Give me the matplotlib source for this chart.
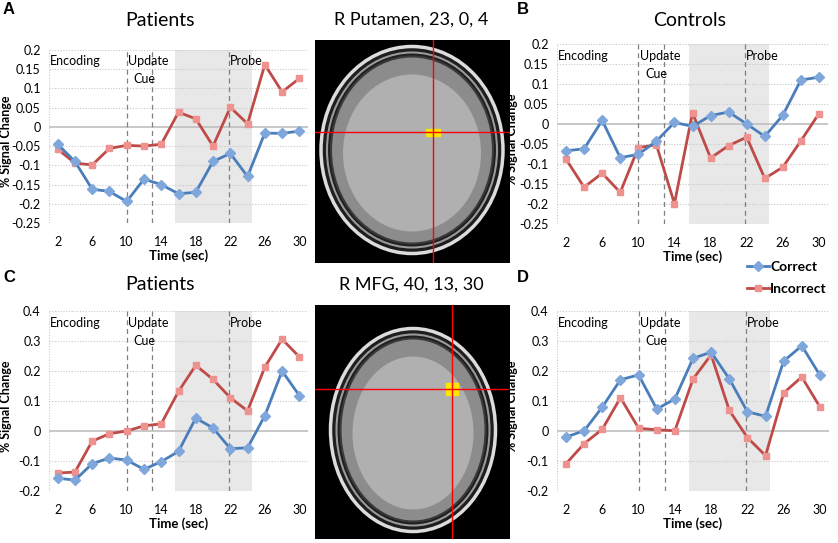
import matplotlib
matplotlib.use("Agg")
import matplotlib.pyplot as plt
from matplotlib.patches import Ellipse, Rectangle

plt.rcParams["font.family"] = ["Lato", "DejaVu Sans"]

W, H = 838, 543

time = [2, 4, 6, 8, 10, 12, 14, 16, 18, 20, 22, 24, 26, 28, 30]
xticks = [2, 6, 10, 14, 18, 22, 26, 30]

a_correct = [-0.045, -0.090, -0.162, -0.168, -0.194, -0.136, -0.150, -0.174,
             -0.170, -0.090, -0.069, -0.129, -0.016, -0.017, -0.011]
a_incorrect = [-0.058, -0.094, -0.099, -0.056, -0.048, -0.050, -0.045, 0.038,
               0.021, -0.050, 0.051, 0.008, 0.162, 0.091, 0.126]

b_correct = [-0.067, -0.062, 0.009, -0.084, -0.076, -0.043, 0.004, -0.006,
             0.021, 0.030, 0.000, -0.031, 0.022, 0.110, 0.117]
b_incorrect = [-0.088, -0.158, -0.123, -0.171, -0.059, -0.052, -0.199, 0.028,
               -0.085, -0.054, -0.033, -0.136, -0.108, -0.042, 0.026]

c_correct = [-0.157, -0.164, -0.109, -0.090, -0.097, -0.128, -0.102, -0.068,
             0.043, 0.010, -0.059, -0.056, 0.051, 0.200, 0.118]
c_incorrect = [-0.140, -0.137, -0.034, -0.009, 0.000, 0.017, 0.024, 0.132,
               0.219, 0.172, 0.111, 0.067, 0.213, 0.306, 0.247]

d_correct = [-0.020, 0.001, 0.080, 0.171, 0.187, 0.073, 0.107, 0.242,
             0.263, 0.174, 0.064, 0.049, 0.233, 0.284, 0.186]
d_incorrect = [-0.109, -0.042, 0.006, 0.111, 0.009, 0.004, 0.001, 0.173,
               0.254, 0.069, -0.022, -0.082, 0.127, 0.180, 0.080]

yticks_top = [0.2, 0.15, 0.1, 0.05, 0, -0.05, -0.1, -0.15, -0.2, -0.25]
yticks_bottom = [0.4, 0.3, 0.2, 0.1, 0, -0.1, -0.2]

BLUE = "#4A7EBB"
BLUE_FILL = "#7FA7DC"
RED = "#BE4B48"
RED_FILL = "#EE9290"
NARROW = ["Liberation Sans Narrow", "Lato", "DejaVu Sans"]


def px_axes(fig, left, top, right, bottom):
    return fig.add_axes([left / W, 1 - bottom / H, (right - left) / W, (bottom - top) / H])


def fmt(v):
    if v == 0:
        return "0"
    return "%g" % v


def line_panel(ax, correct, incorrect, yticks, ylabel_x):
    ylo, yhi = min(yticks), max(yticks)
    ax.axvspan(15.6, 24.5, color="#E8E8E8", zorder=0, lw=0)
    for y in yticks:
        if y == 0:
            ax.axhline(0, color="#BFBFBF", lw=1.2, zorder=1)
        else:
            ax.axhline(y, color="#C8C8C8", lw=0.8, ls=(0, (1, 1.5)), zorder=1)
    ax.axvline(1.0, color="#C8C8C8", lw=0.8, ls=(0, (1, 1.5)))
    for xv in (10, 12.9, 21.8):
        ax.axvline(xv, color="#808080", lw=0.9, ls=(0, (4, 3)), zorder=2)
    ax.plot(time, correct, color=BLUE, lw=2, marker="D", ms=5,
            mfc=BLUE_FILL, mec=BLUE_FILL, zorder=4, label="Correct")
    ax.plot(time, incorrect, color=RED, lw=2, marker="s", ms=5,
            mfc=RED_FILL, mec=RED_FILL, zorder=3, label="Incorrect")
    ax.set_xlim(1, 31)
    ax.set_ylim(ylo, yhi)
    ax.set_xticks(xticks)
    ax.set_xticklabels([str(t) for t in xticks], family=NARROW, fontsize=9)
    ax.set_yticks(yticks)
    ax.set_yticklabels([fmt(v) for v in yticks], family=NARROW, fontsize=9)
    ax.tick_params(length=0, pad=6)
    ax.tick_params(axis="x", pad=9)
    for s in ax.spines.values():
        s.set_visible(False)
    ax.set_xlabel("Time (sec)", fontsize=9.5, fontweight="bold", labelpad=1)
    ax.set_ylabel("% Signal Change", fontsize=9, fontweight="bold")
    ax.yaxis.set_label_coords(ylabel_x, 0.47)
    span = yhi - ylo
    ax.text(1.1, yhi - span * 0.065, "Encoding", fontsize=9, va="center")
    ax.text(10.15, yhi - span * 0.065, "Update", fontsize=9, va="center")
    ax.text(12.0, yhi - span * 0.165, "Cue", fontsize=9, va="center", ha="center")
    ax.text(21.95, yhi - span * 0.065, "Probe", fontsize=9, va="center")


def brain(ax, center, size, cross, blob):
    ax.set_facecolor("black")
    ax.set_xlim(0, 195)
    ax.set_ylim(size[2], 0)
    cx, cy = center
    w, h = size[0], size[1]
    ax.add_patch(Ellipse((cx, cy), w, h, facecolor="#1e1e1e", edgecolor="#dcdcdc", lw=2.5))
    ax.add_patch(Ellipse((cx, cy), w - 12, h - 12, facecolor="none", edgecolor="#9a9a9a", lw=1.5))
    ax.add_patch(Ellipse((cx, cy), w - 20, h - 20, facecolor="#8c8c8c", edgecolor="#3a3a3a", lw=1.5))
    ax.add_patch(Ellipse((cx, cy + 3), w - 44, h - 50, facecolor="#b0b0b0", edgecolor="none"))
    bx, by, bw, bh = blob
    ax.add_patch(Rectangle((bx - bw / 2, by - bh / 2), bw, bh, color="#FFE600", zorder=3))
    ax.axvline(cross[0], color="red", lw=1, zorder=4)
    ax.axhline(cross[1], color="red", lw=1, zorder=4)
    ax.set_xticks([])
    ax.set_yticks([])
    for s in ax.spines.values():
        s.set_visible(False)


fig = plt.figure(figsize=(W / 100, H / 100), dpi=100)

# brain slices first so the chart labels sit on top of them
ax_img1 = px_axes(fig, 315, 40, 510, 263)
brain(ax_img1, (97, 110), (182, 207, 223), (118, 92), (118, 92, 14, 7))
ax_img2 = px_axes(fig, 315, 305, 510, 539)
brain(ax_img2, (98, 125), (165, 203, 234), (137, 84), (137, 84, 12, 12))

ax_a = px_axes(fig, 49, 50, 308, 223)
line_panel(ax_a, a_correct, a_incorrect, yticks_top, (12 - 49) / 259)
ax_b = px_axes(fig, 557, 44, 828, 224)
line_panel(ax_b, b_correct, b_incorrect, yticks_top, (518 - 557) / 271)
ax_c = px_axes(fig, 49, 311, 308, 491)
line_panel(ax_c, c_correct, c_incorrect, yticks_bottom, (12 - 49) / 259)
ax_d = px_axes(fig, 557, 311, 829, 491)
line_panel(ax_d, d_correct, d_incorrect, yticks_bottom, (518 - 557) / 272)

fig.text(160 / W, 1 - 20 / H, "Patients", fontsize=14, ha="center", va="center")
fig.text(690 / W, 1 - 20 / H, "Controls", fontsize=14, ha="center", va="center")
fig.text(160 / W, 1 - 285 / H, "Patients", fontsize=14, ha="center", va="center")
fig.text(411 / W, 1 - 20 / H, "R Putamen, 23, 0, 4", fontsize=13, ha="center", va="center")
fig.text(411 / W, 1 - 285 / H, "R MFG, 40, 13, 30", fontsize=13, ha="center", va="center")
for lab, x, y in [("A", 3, 9), ("B", 517, 9), ("C", 3, 278), ("D", 517, 278)]:
    fig.text(x / W, 1 - y / H, lab, fontsize=12, fontweight="bold", ha="left", va="center",
             family=["Liberation Sans", "DejaVu Sans"])

handles, labels = ax_b.get_legend_handles_labels()
fig.legend(handles, labels, loc="upper left", bbox_to_anchor=(737 / W, 1 - 251 / H),
           frameon=False, handlelength=1.6, handletextpad=0.1, borderpad=0.2,
           labelspacing=0.75, prop={"weight": "bold", "size": 10})

fig.savefig("out.png", dpi=100)
